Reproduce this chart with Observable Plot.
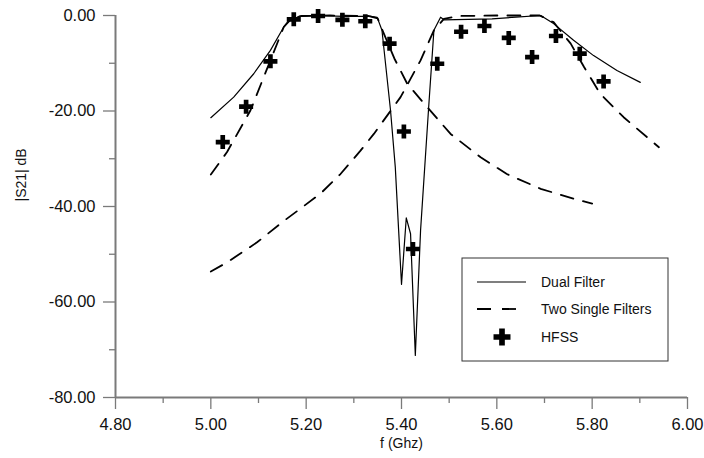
<!DOCTYPE html>
<html><head><meta charset="utf-8">
<script src="https://cdn.jsdelivr.net/npm/d3@7"></script>
<script src="https://cdn.jsdelivr.net/npm/@observablehq/plot@0.6"></script>
<style>body{margin:0;background:#fff} #chart{width:704px;height:458px}</style>
</head><body><div id="chart"></div>
<script>
// Dual filter (solid)
const dualFreq = [5.000,5.048,5.090,5.125,5.153,5.167,5.185,5.220,5.280,5.335,5.349,5.359,5.377,5.387,5.394,5.400,5.410,5.419,5.429,5.440,5.457,5.468,5.482,5.489,5.540,5.590,5.640,5.692,5.719,5.761,5.803,5.852,5.901];
const dualDb   = [-21.4,-17.1,-12.2,-7.3,-2.4,-1.0,-0.2,0.0,-0.2,-0.2,-0.4,-3.1,-19.9,-31.8,-45.0,-56.3,-42.4,-45.7,-71.2,-45.0,-19.2,-3.1,-0.35,-0.9,-0.8,-0.7,-0.35,0.0,-1.7,-5.2,-8.4,-11.5,-14.0];
// Two single filters (dashed): lower band
const lowFreq = [5.000,5.034,5.083,5.125,5.153,5.167,5.190,5.250,5.330,5.350,5.363,5.385,5.412,5.454,5.503,5.566,5.621,5.692,5.762,5.800];
const lowDb   = [-33.3,-28.6,-19.9,-9.4,-2.4,-0.7,-0.1,0.0,-0.1,-0.6,-3.8,-9.0,-14.3,-19.2,-24.8,-29.7,-33.2,-36.3,-38.4,-39.4];
// upper band
const highFreq = [5.000,5.034,5.097,5.155,5.230,5.272,5.314,5.342,5.398,5.440,5.468,5.489,5.520,5.600,5.690,5.719,5.755,5.783,5.817,5.866,5.940];
const highDb   = [-53.6,-51.7,-47.5,-42.9,-37.3,-33.2,-28.3,-24.8,-17.1,-9.4,-3.1,-0.7,-0.1,0.0,0.0,-1.4,-5.9,-10.8,-16.4,-21.3,-27.6];
// HFSS (crosses)
const hfssFreq = [5.025,5.074,5.125,5.174,5.225,5.276,5.324,5.375,5.405,5.424,5.475,5.525,5.574,5.625,5.674,5.724,5.774,5.824];
const hfssDb   = [-26.5,-19.1,-9.6,-0.8,-0.1,-0.9,-1.2,-5.9,-24.3,-48.9,-10.1,-3.4,-2.2,-4.7,-8.7,-4.3,-8.0,-13.8];
// axes
const xMajor = [4.8,5.0,5.2,5.4,5.6,5.8,6.0];
const xMinor = [4.9,5.1,5.3,5.5,5.7,5.9];
const yMajor = [0,-20,-40,-60,-80];
const yMinor = [-10,-30,-50,-70];
const xDomain = [4.8,6.0], yDomain = [-80,0];
const legendLabels = ["Dual Filter","Two Single Filters","HFSS"];

const dual = dualFreq.map((f,i)=>({f, db: dualDb[i]}));
const singles = [
  ...lowFreq.map((f,i)=>({f, db: lowDb[i], s:"low"})),
  ...highFreq.map((f,i)=>({f, db: highDb[i], s:"high"}))
];
const hfss = hfssFreq.map((f,i)=>({f, db: hfssDb[i]}));

const axisColor = "#7a7a7a";
const font = "'Liberation Sans', Arial, sans-serif";
const plot = Plot.plot({
  width: 704, height: 458,
  marginLeft: 115, marginRight: 17, marginTop: 15, marginBottom: 61,
  style: {fontFamily: font, fontSize: "16px", color: "#111", background: "#fff", overflow: "visible"},
  x: {domain: xDomain},
  y: {domain: yDomain},
  marks: [
    Plot.axisX(xMinor, {tickSize: 6, tickFormat: () => "", stroke: axisColor, strokeWidth: 1.3, label: null}),
    Plot.axisX(xMajor, {tickSize: 12, tickPadding: 9, tickFormat: d => d.toFixed(2), stroke: axisColor, strokeWidth: 1.3, label: null, fontSize: 16.5, fill: "#111"}),
    Plot.axisY(yMinor, {tickSize: 6, tickFormat: () => "", stroke: axisColor, strokeWidth: 1.3, label: null}),
    Plot.axisY(yMajor, {tickSize: 12, tickPadding: 8, tickFormat: d => d.toFixed(2), stroke: axisColor, strokeWidth: 1.3, label: null, fontSize: 16.5, fill: "#111"}),
    Plot.ruleY([yDomain[0]], {stroke: axisColor, strokeWidth: 2}),
    Plot.ruleX([xDomain[0]], {stroke: axisColor, strokeWidth: 2}),
    Plot.line(singles, {x: "f", y: "db", z: "s", stroke: "#000", strokeWidth: 1.8, strokeDasharray: "13,10"}),
    Plot.line(dual, {x: "f", y: "db", stroke: "#000", strokeWidth: 1.2}),
    Plot.dot(hfss, {x: "f", y: "db", symbol: "cross", fill: "#000", stroke: null, r: 5.9}),
    Plot.text(["f (Ghz)"], {frameAnchor: "bottom", dy: 50, fontSize: 14, fill: "#111"}),
    Plot.text(["|S21| dB"], {frameAnchor: "left", dx: -94, dy: -5, rotate: -90, fontSize: 14, fill: "#111"})
  ]
});
document.getElementById("chart").appendChild(plot);

// legend box inside plot area
const svg = d3.select(plot);
const g = svg.append("g").attr("font-family", font).attr("font-size", 14).attr("fill", "#111").attr("text-anchor", "start");
g.append("rect").attr("x", 462).attr("y", 258).attr("width", 206).attr("height", 103)
  .attr("fill", "#fff").attr("stroke", "#333").attr("stroke-width", 1);
g.append("line").attr("x1", 477).attr("x2", 526).attr("y1", 282).attr("y2", 282).attr("stroke", "#000").attr("stroke-width", 1.2);
g.append("line").attr("x1", 477).attr("x2", 527).attr("y1", 309).attr("y2", 309).attr("stroke", "#000").attr("stroke-width", 1.8).attr("stroke-dasharray", "14,11");
g.append("path").attr("d", d3.symbol(d3.symbolCross, 160)()).attr("transform", "translate(502,337)").attr("fill", "#000");
[282, 309, 337].forEach((y, i) => {
  g.append("text").attr("x", 541).attr("y", y).attr("dy", "0.35em").attr("text-anchor", "start").text(legendLabels[i]);
});
</script>
</body></html>
